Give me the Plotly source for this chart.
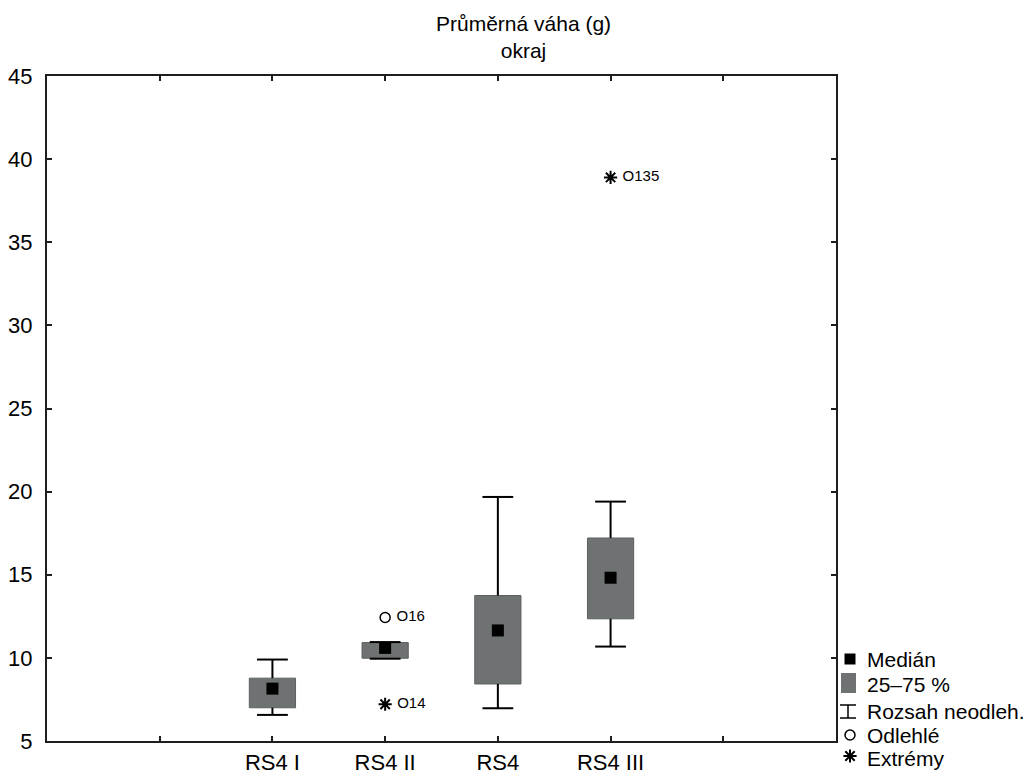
import plotly.graph_objects as go

# ---------------- data ----------------
categories = ["RS4 I", "RS4 II", "RS4", "RS4 III"]
cat_pos = [2, 3, 4, 5]                      # slot index of each category on the x axis
q1 = [7.0, 9.98, 8.43, 12.35]
q3 = [8.78, 10.92, 13.75, 17.21]
median = [8.15, 10.6, 11.65, 14.82]
whisk_lo = [6.57, 9.95, 6.97, 10.68]
whisk_hi = [9.9, 10.95, 19.68, 19.4]

outlier_cat = ["RS4 II"]
outlier_val = [12.43]
outlier_lab = ["O16"]

extreme_cat = ["RS4 II", "RS4 III"]
extreme_val = [7.21, 38.9]
extreme_lab = ["O14", "O135"]

y_ticks = [5, 10, 15, 20, 25, 30, 35, 40, 45]
x_tickvals = [1, 2, 3, 4, 5, 6]
x_ticktext = ["", "RS4 I", "RS4 II", "RS4", "RS4 III", ""]

legend_labels = ["Medián", "25–75 %", "Rozsah neodleh.", "Odlehlé", "Extrémy"]
title_text = "Průměrná váha (g)<br>okraj"

# ---------------- styling ----------------
OFF = 8                      # page body margin of the html page
W, H = 1035 - OFF, 775 - OFF
FONT = "Liberation Sans, Arial, sans-serif"
BOX_FILL = "#6e7273"
BOX_EDGE = "#5c6061"
AX = "#1e1e1e"


def px(v):
    """reference pixel -> figure pixel"""
    return v - OFF


pos = {c: p for c, p in zip(categories, cat_pos)}

fig = go.Figure()

# boxes (25-75 %)
fig.add_trace(go.Bar(
    x=cat_pos, base=q1, y=[b - a for a, b in zip(q1, q3)], width=0.41,
    marker=dict(color=BOX_FILL, line=dict(color=BOX_EDGE, width=1)),
    showlegend=False, hoverinfo="skip"))

# whisker stems (from box edge to whisker end)
wx, wy = [], []
for p, a, lo, b, hi in zip(cat_pos, q1, whisk_lo, q3, whisk_hi):
    wx += [p, p, None, p, p, None]
    wy += [lo, a, None, b, hi, None]
fig.add_trace(go.Scatter(x=wx, y=wy, mode="lines",
                         line=dict(color="black", width=2),
                         showlegend=False, hoverinfo="skip"))
# whisker caps
fig.add_trace(go.Scatter(x=cat_pos + cat_pos, y=whisk_lo + whisk_hi, mode="markers",
                         marker=dict(symbol="line-ew-open", size=22, color="black",
                                     line=dict(color="black", width=2)),
                         showlegend=False, hoverinfo="skip"))
# medians
fig.add_trace(go.Scatter(x=cat_pos, y=median, mode="markers",
                         marker=dict(symbol="square", size=12, color="black"),
                         showlegend=False))
# outliers
fig.add_trace(go.Scatter(x=[pos[c] for c in outlier_cat], y=outlier_val,
                         mode="markers+text", text=[" " + t for t in outlier_lab],
                         textposition="middle right",
                         textfont=dict(family=FONT, size=15, color="black"),
                         marker=dict(symbol="circle-open", size=10, color="black",
                                     line=dict(color="black", width=1.5)),
                         showlegend=False))
# extremes
fig.add_trace(go.Scatter(x=[pos[c] for c in extreme_cat], y=extreme_val,
                         mode="markers+text", text=[" " + t for t in extreme_lab],
                         textposition="middle right",
                         textfont=dict(family=FONT, size=15, color="black"),
                         marker=dict(symbol="asterisk-open", size=11, color="black",
                                     line=dict(color="black", width=2)),
                         showlegend=False))

# ---------------- legend (drawn on a pixel overlay axis) ----------------
LX = px(850)
fig.add_trace(go.Scatter(x=[LX], y=[px(659)], xaxis="x2", yaxis="y2", mode="markers",
                         marker=dict(symbol="square", size=11, color="black"),
                         showlegend=False, hoverinfo="skip"))
fig.add_trace(go.Scatter(x=[LX], y=[px(735)], xaxis="x2", yaxis="y2", mode="markers",
                         marker=dict(symbol="circle-open", size=10, color="black",
                                     line=dict(color="black", width=1.5)),
                         showlegend=False, hoverinfo="skip"))
fig.add_trace(go.Scatter(x=[LX], y=[px(756)], xaxis="x2", yaxis="y2", mode="markers",
                         marker=dict(symbol="asterisk-open", size=11, color="black",
                                     line=dict(color="black", width=2)),
                         showlegend=False, hoverinfo="skip"))
shapes = [
    dict(type="rect", xref="x2", yref="y2", x0=px(841), x1=px(856), y0=px(673), y1=px(693),
         fillcolor=BOX_FILL, line=dict(width=0)),
    dict(type="line", xref="x2", yref="y2", x0=px(848), x1=px(848), y0=px(705), y1=px(718),
         line=dict(color="black", width=1.5)),
    dict(type="line", xref="x2", yref="y2", x0=px(840), x1=px(856), y0=px(705), y1=px(705),
         line=dict(color="black", width=1.5)),
    dict(type="line", xref="x2", yref="y2", x0=px(840), x1=px(856), y0=px(718), y1=px(718),
         line=dict(color="black", width=1.5)),
]
annotations = [
    dict(xref="x2", yref="y2", x=px(865), y=px(yy), text=t, showarrow=False,
         xanchor="left", yanchor="middle", font=dict(family=FONT, size=21, color="black"))
    for t, yy in zip(legend_labels, [659, 684, 711, 735, 758])
]
annotations.append(dict(xref="x2", yref="y2", x=px(523), y=px(37), text=title_text,
                        showarrow=False, xanchor="center", yanchor="middle",
                        font=dict(family=FONT, size=21, color="black")))

fig.update_layout(
    width=W, height=H,
    margin=dict(l=0, r=0, t=0, b=0),
    template="none",
    paper_bgcolor="white", plot_bgcolor="rgba(0,0,0,0)",
    showlegend=False,
    font=dict(family=FONT, size=20, color="black"),
    xaxis=dict(domain=[px(47) / W, px(836) / W], range=[0, 7], tickvals=x_tickvals,
               ticktext=x_ticktext, ticks="inside", ticklen=5, tickwidth=1.5,
               tickcolor=AX, showline=True, linecolor=AX, linewidth=2,
               mirror="ticks", showgrid=False, zeroline=False, anchor="y",
               tickfont=dict(family=FONT, size=22, color="black"),
               ticklabelstandoff=1, automargin=False),
    yaxis=dict(domain=[(H - px(741)) / H, (H - px(76)) / H], range=[5, 45], tickvals=y_ticks,
               ticks="inside", ticklen=5, tickwidth=1.5, tickcolor=AX,
               showline=True, linecolor=AX, linewidth=2, mirror="ticks",
               showgrid=False, zeroline=False, anchor="x",
               tickfont=dict(family=FONT, size=22, color="black"),
               ticklabelstandoff=8, automargin=False),
    xaxis2=dict(domain=[0, 1], range=[0, W], visible=False, anchor="y2",
                fixedrange=True),
    yaxis2=dict(domain=[0, 1], range=[H, 0], visible=False, anchor="x2",
                fixedrange=True),
    shapes=shapes,
    annotations=annotations,
)

fig.write_html("out.html")
